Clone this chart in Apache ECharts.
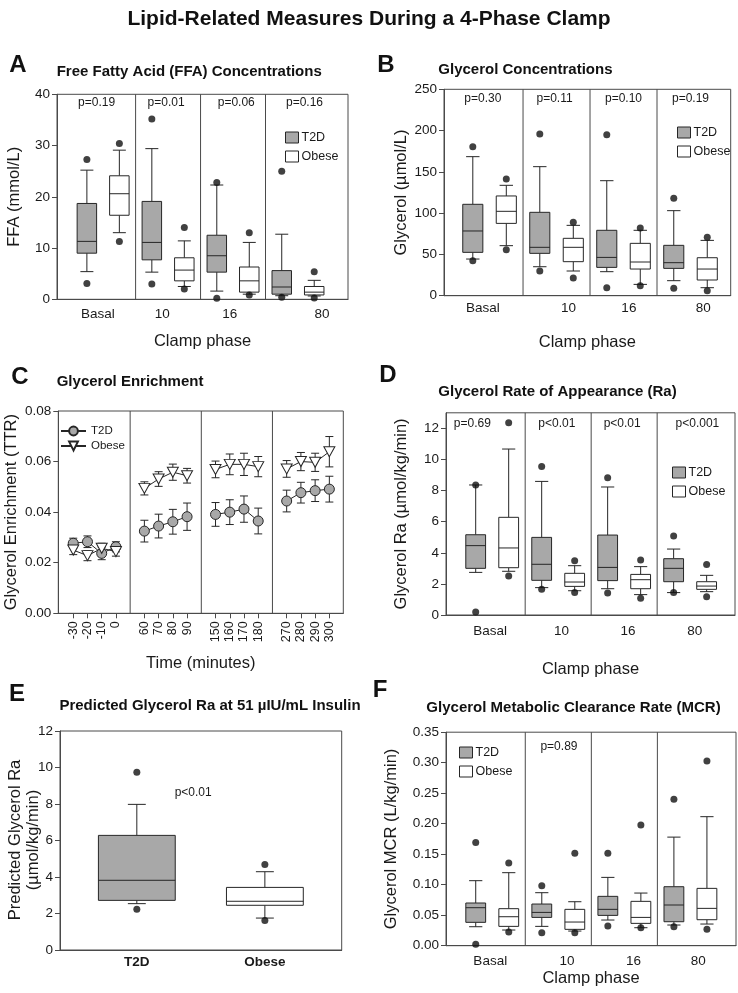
<!DOCTYPE html>
<html><head><meta charset="utf-8">
<script src="https://cdn.jsdelivr.net/npm/echarts@6/dist/echarts.min.js"></script>
<style>html,body{margin:0;padding:0;background:#fff}#c{width:738px;height:993px}</style>
</head><body><div id="c"></div><script>
// ---------------- DATA ----------------
const phases = ['Basal', '10', '16', '80'];
// box stats: [lower whisker, Q1, median, Q3, upper whisker]
const ffaT2D   = [[5.4, 9.0, 11.3, 18.7, 25.2], [5.3, 7.7, 11.1, 19.1, 29.4], [1.6, 5.3, 8.5, 12.5, 22.3], [0.7, 1.0, 2.4, 5.6, 12.7]];
const ffaObese = [[13.0, 16.4, 20.6, 24.1, 29.1], [2.5, 3.6, 5.7, 8.1, 11.4], [1.0, 1.4, 3.6, 6.3, 11.1], [0.65, 0.85, 1.4, 2.5, 3.7]];
const ffaT2DOut   = [[27.3, 3.1], [35.2, 3.0], [22.8, 0.2], [25.0, 0.4]];
const ffaObeseOut = [[30.4, 11.3], [14.0, 2.0], [13.0, 0.85], [5.4, 0.26]];
const ffaP = ['p=0.19', 'p=0.01', 'p=0.06', 'p=0.16'];

const glyT2D   = [[44.4, 52.5, 78.4, 110.7, 168.4], [35.1, 51.3, 58.6, 101, 156.3], [29.1, 34.3, 46.4, 79.2, 139.3], [18.2, 33.1, 40, 61, 103]];
const glyObese = [[60.6, 87.6, 102.2, 120.8, 133.7], [29.9, 41.2, 58.6, 69.5, 85.2], [13.7, 32.3, 40.8, 63.4, 79.2], [9.7, 19, 32.3, 46, 67]];
const glyT2DOut   = [[180.5, 42.4], [195.9, 29.9], [195, 9.7], [117.9, 8.9]];
const glyObeseOut = [[141.4, 55.7], [88.9, 21.4], [82, 12.1], [70.7, 6.1]];
const glyP = ['p=0.30', 'p=0.11', 'p=0.10', 'p=0.19'];

const timeLabels = ['-30', '-20', '-10', '0', '60', '70', '80', '90', '150', '160', '170', '180', '270', '280', '290', '300'];
const enrT2D      = [0.0277, 0.0283, 0.0237, 0.0263, 0.0325, 0.0345, 0.0362, 0.0382, 0.0391, 0.0400, 0.0412, 0.0365, 0.0444, 0.0477, 0.0485, 0.0491];
const enrT2DErr   = [0.0020, 0.0023, 0.0025, 0.0020, 0.0043, 0.0047, 0.0049, 0.0054, 0.0047, 0.0049, 0.0052, 0.0051, 0.0043, 0.0041, 0.0043, 0.0051];
const enrObese    = [0.0250, 0.0228, 0.0257, 0.0244, 0.0494, 0.0531, 0.0558, 0.0544, 0.0569, 0.0589, 0.0589, 0.0580, 0.0571, 0.0600, 0.0597, 0.0639];
const enrObeseErr = [0.0018, 0.0020, 0.0020, 0.0018, 0.0026, 0.0029, 0.0032, 0.0029, 0.0033, 0.0041, 0.0044, 0.0040, 0.0033, 0.0036, 0.0036, 0.0060];

const raT2D   = [[2.74, 3.0, 4.46, 5.16, 8.36], [1.76, 2.23, 3.26, 4.99, 8.59], [1.69, 2.21, 3.06, 5.14, 8.23], [1.44, 2.14, 3.0, 3.62, 4.24]];
const raObese = [[2.81, 3.04, 4.31, 6.28, 10.67], [1.56, 1.84, 2.12, 2.68, 3.17], [1.31, 1.69, 2.27, 2.61, 3.11], [1.5, 1.65, 1.86, 2.14, 2.55]];
const raT2DOut   = [[8.36, 0.19], [9.54, 1.65], [8.83, 1.41], [5.08, 1.44]];
const raObeseOut = [[12.36, 2.51], [3.49, 1.44], [3.54, 1.07], [3.24, 1.18]];
const raP = ['p=0.69', 'p<0.01', 'p<0.01', 'p<0.001'];

const predGroups = ['T2D', 'Obese'];
const predBoxes  = [[2.54, 2.72, 3.82, 6.28, 7.98], [1.75, 2.45, 2.67, 3.43, 4.29]];
const predOut    = [[9.74, 2.23], [4.68, 1.61]];
const predP = ['p<0.01'];

const mcrT2D   = [[0.0311, 0.0383, 0.0623, 0.070, 0.1066], [0.0317, 0.0464, 0.0546, 0.0683, 0.0869], [0.0421, 0.0497, 0.0596, 0.0809, 0.112], [0.0339, 0.0393, 0.0667, 0.0967, 0.178]];
const mcrObese = [[0.0257, 0.0317, 0.0475, 0.0607, 0.1197], [0.024, 0.0268, 0.0388, 0.0596, 0.0721], [0.0295, 0.0366, 0.0464, 0.0727, 0.0863], [0.0355, 0.0426, 0.0612, 0.094, 0.2115]];
const mcrT2DOut   = [[0.169, 0.0022], [0.0984, 0.0213], [0.1514, 0.0322], [0.240, 0.0311]];
const mcrObeseOut = [[0.1355, 0.0224], [0.1514, 0.0213], [0.1978, 0.0295], [0.3027, 0.0268]];
const mcrP = ['p=0.89'];

// ---------------- STYLE / LAYOUT ----------------
const FONT = '"Liberation Sans", Arial, Helvetica, sans-serif';
const GRAY = '#a8a8a8';
const INK = '#262626';
const FRAME = '#4a4a4a';

const chart = echarts.init(document.getElementById('c'));

const grids = [
  {left: 57, top: 94.3, width: 291, height: 205},      // A
  {left: 444, top: 89.3, width: 286.7, height: 206.4}, // B
  {left: 58.3, top: 411, width: 285, height: 202.3},   // C
  {left: 446, top: 412.8, width: 289, height: 202.2},  // D
  {left: 60, top: 731, width: 281.7, height: 219},     // E
  {left: 446, top: 732.2, width: 290, height: 213.5}   // F
].map(g => Object.assign({show: true, borderColor: FRAME, borderWidth: 1, containLabel: false, outerBoundsMode: 'none'}, g));

const xAxes = [];
const yAxes = [];
const series = [];

function ln(x1, y1, x2, y2, c) {
  return {type: 'line', shape: {x1, y1, x2, y2}, style: {stroke: c || INK, lineWidth: 1}};
}

function boxRenderer(fill, boxW, capW) {
  return function (params, api) {
    const x = api.value(0);
    const c = k => api.coord([x, api.value(k)]);
    const lo = c(1), q1 = c(2), md = c(3), q3 = c(4), hi = c(5);
    const bw = api.size([boxW, 0])[0], cw = api.size([capW, 0])[0];
    const cx = lo[0];
    return {type: 'group', children: [
      ln(cx, q3[1], cx, hi[1]), ln(cx - cw / 2, hi[1], cx + cw / 2, hi[1]),
      ln(cx, q1[1], cx, lo[1]), ln(cx - cw / 2, lo[1], cx + cw / 2, lo[1]),
      {type: 'rect', shape: {x: cx - bw / 2, y: q3[1], width: bw, height: q1[1] - q3[1]}, style: {fill: fill, stroke: INK, lineWidth: 1}},
      ln(cx - bw / 2, md[1], cx + bw / 2, md[1])
    ]};
  };
}

function dividerRenderer(params, api) {
  const p = api.coord([api.value(0), 0]);
  const cs = params.coordSys;
  return ln(p[0], cs.y, p[0], cs.y + cs.height, FRAME);
}

function textRenderer(texts, size) {
  return function (params, api) {
    const p = api.coord([api.value(0), api.value(1)]);
    return {type: 'text', x: p[0], y: p[1], style: {text: texts[params.dataIndex], fill: '#1a1a1a', font: size + 'px ' + FONT, align: 'center', verticalAlign: 'middle'}};
  };
}

function labelFormatter(pos, names) {
  return function (v) {
    for (let i = 0; i < pos.length; i++) if (Math.abs(pos[i] - v) < 1e-6) return names[i];
    return '';
  };
}

function yAxis(ax, o) {
  const a = {
    type: 'value', gridIndex: ax, min: o.min, max: o.max, interval: o.interval,
    name: o.name, nameLocation: 'middle', nameGap: o.nameGap, nameRotate: 90,
    nameTextStyle: {fontFamily: FONT, fontSize: 16.5, color: '#1a1a1a', lineHeight: 18},
    axisLine: {show: true, onZero: false, lineStyle: {color: FRAME, width: 1}},
    axisTick: {show: true, length: 5, lineStyle: {color: FRAME}},
    axisLabel: {fontFamily: FONT, fontSize: 13.5, color: '#1a1a1a', margin: 7},
    splitLine: {show: false}
  };
  if (o.fmt) a.axisLabel.formatter = o.fmt;
  if (o.custom) { a.axisLabel.customValues = o.custom; a.axisTick.customValues = o.custom; }
  yAxes.push(a);
}

function xAxis(ax, o) {
  xAxes.push({
    type: 'value', gridIndex: ax, min: o.min, max: o.max,
    name: o.name || '', nameLocation: 'middle', nameGap: o.nameGap || 30,
    nameTextStyle: {fontFamily: FONT, fontSize: 16.5, color: '#1a1a1a'},
    axisLine: {show: true, onZero: false, lineStyle: {color: FRAME, width: 1}},
    axisTick: o.ticks ? {show: true, length: 5, inside: false, customValues: o.labelPos, lineStyle: {color: FRAME}} : {show: false},
    axisLabel: {
      customValues: o.labelPos, formatter: labelFormatter(o.labelPos, o.labels),
      fontFamily: FONT, fontSize: o.labelSize || 13.5, fontWeight: o.labelWeight || 'normal',
      color: '#1a1a1a', margin: o.labelMargin || 8, rotate: o.rotate || 0
    },
    splitLine: {show: false}
  });
}

function boxSeries(ax, stats, name, posFn, fill, boxW, capW) {
  series.push({
    type: 'custom', name: name, xAxisIndex: ax, yAxisIndex: ax, z: 3,
    itemStyle: {color: fill, borderColor: INK},
    encode: {x: 0, y: [1, 2, 3, 4, 5]},
    data: stats.map((s, i) => [posFn(i)].concat(s)),
    renderItem: boxRenderer(fill, boxW, capW)
  });
}

function outlierSeries(ax, outs, posFn) {
  const d = [];
  outs.forEach((o, i) => o.forEach(v => d.push([posFn(i), v])));
  series.push({type: 'scatter', xAxisIndex: ax, yAxisIndex: ax, z: 4, symbol: 'circle', symbolSize: 7,
    itemStyle: {color: '#111'}, data: d, silent: true});
}

function dividerSeries(ax, xs) {
  series.push({type: 'custom', xAxisIndex: ax, yAxisIndex: ax, z: 2, silent: true,
    data: xs.map(x => [x]), renderItem: dividerRenderer});
}

function textSeries(ax, pts, texts, size) {
  series.push({type: 'custom', xAxisIndex: ax, yAxisIndex: ax, z: 5, silent: true,
    data: pts, renderItem: textRenderer(texts, size)});
}

const t2dPos = i => i - 0.25;
const obPos = i => i + 0.25;
const dividers = [0.5, 1.5, 2.5];

// generic 4-phase box panel
function phasePanel(ax, lay, t2d, ob, t2dOut, obOut, pTexts, yopt) {
  xAxis(ax, {min: lay.xmin, max: lay.xmax, labelPos: lay.labelPos, labels: phases,
    name: lay.xName, nameGap: lay.xGap, labelMargin: lay.labelMargin});
  yAxis(ax, yopt);
  dividerSeries(ax, dividers);
  boxSeries(ax, t2d, 'T2D', t2dPos, GRAY, 0.3, 0.2);
  boxSeries(ax, ob, 'Obese', obPos, '#ffffff', 0.3, 0.2);
  outlierSeries(ax, t2dOut, t2dPos);
  outlierSeries(ax, obOut, obPos);
  textSeries(ax, lay.pPos.map(x => [x, lay.pY]), pTexts, 12);
}

// A
phasePanel(0, {xmin: -0.71, xmax: 3.77, labelPos: [-0.08, 0.91, 1.95, 3.37], xName: 'Clamp phase', xGap: 34, labelMargin: 8,
  pPos: [-0.1, 0.97, 2.05, 3.1], pY: 38.4},
  ffaT2D, ffaObese, ffaT2DOut, ffaObeseOut, ffaP,
  {min: 0, max: 40, interval: 10, name: 'FFA (mmol/L)', nameGap: 34});
// B
phasePanel(1, {xmin: -0.68, xmax: 3.6, labelPos: [-0.1, 1.18, 2.08, 3.19], xName: 'Clamp phase', xGap: 38, labelMargin: 6,
  pPos: [-0.1, 0.97, 2.0, 3.0], pY: 239},
  glyT2D, glyObese, glyT2DOut, glyObeseOut, glyP,
  {min: 0, max: 250, interval: 50, name: 'Glycerol (\u00b5mol/L)', nameGap: 34});

// C : time course
const timePos = i => i + Math.floor(i / 4);
xAxis(2, {min: -1.05, max: 18.98, labelPos: timeLabels.map((t, i) => timePos(i)), labels: timeLabels,
  name: 'Time (minutes)', nameGap: 42, ticks: true, rotate: 90, labelSize: 12.5, labelMargin: 8});
yAxis(2, {min: 0, max: 0.08, interval: 0.02, name: 'Glycerol Enrichment (TTR)', nameGap: 38, fmt: v => v.toFixed(2)});
dividerSeries(2, [4, 9, 14]);
function errRenderer(params, api) {
  const x = api.value(0), v = api.value(1), e = api.value(2);
  const top = api.coord([x, v + e]), bot = api.coord([x, v - e]);
  const hw = 4;
  return {type: 'group', children: [ln(top[0], top[1], bot[0], bot[1]),
    ln(top[0] - hw, top[1], top[0] + hw, top[1]), ln(bot[0] - hw, bot[1], bot[0] + hw, bot[1])]};
}
function lineData(vals) {
  const d = [];
  vals.forEach((v, i) => { if (i > 0 && i % 4 === 0) d.push([timePos(i) - 1, '-']); d.push([timePos(i), v]); });
  return d;
}
series.push({type: 'custom', xAxisIndex: 2, yAxisIndex: 2, z: 2, silent: true,
  data: enrT2D.map((v, i) => [timePos(i), v, enrT2DErr[i]]), renderItem: errRenderer});
series.push({type: 'custom', xAxisIndex: 2, yAxisIndex: 2, z: 2, silent: true,
  data: enrObese.map((v, i) => [timePos(i), v, enrObeseErr[i]]), renderItem: errRenderer});
series.push({type: 'line', name: 'cT2D', xAxisIndex: 2, yAxisIndex: 2, z: 4, data: lineData(enrT2D),
  connectNulls: false, symbol: 'circle', symbolSize: 10, showAllSymbol: true,
  lineStyle: {color: INK, width: 1}, itemStyle: {color: GRAY, borderColor: INK, borderWidth: 1}});
series.push({type: 'line', name: 'cObese', xAxisIndex: 2, yAxisIndex: 2, z: 4, data: lineData(enrObese),
  connectNulls: false, symbol: 'triangle', symbolRotate: 180, symbolSize: [11, 10], showAllSymbol: true,
  lineStyle: {color: INK, width: 1}, itemStyle: {color: '#ffffff', borderColor: INK, borderWidth: 1}});

// D
phasePanel(3, {xmin: -0.70, xmax: 3.68, labelPos: [-0.03, 1.05, 2.06, 3.07], xName: 'Clamp phase', xGap: 46, labelMargin: 9,
  pPos: [-0.3, 0.98, 1.97, 3.11], pY: 12.28},
  raT2D, raObese, raT2DOut, raObeseOut, raP,
  {min: 0, max: 13, interval: 2, name: 'Glycerol Ra (\u00b5mol/kg/min)', nameGap: 36, custom: [0, 2, 4, 6, 8, 10, 12]});

// E (y-axis title drawn as rotated graphic text below)
xAxis(4, {min: -0.6, max: 1.6, labelPos: [0, 1], labels: predGroups, labelWeight: 'bold', labelMargin: 5});
yAxis(4, {min: 0, max: 12, interval: 2, name: '', nameGap: 20});
boxSeries(4, [predBoxes[0]], 'T2D', i => 0, GRAY, 0.6, 0.14);
boxSeries(4, [predBoxes[1]], 'Obese', i => 1, '#ffffff', 0.6, 0.14);
outlierSeries(4, [predOut[0]], i => 0);
outlierSeries(4, [predOut[1]], i => 1);
textSeries(4, [[0.44, 8.62]], predP, 12);

// F
(function () {
  const ax = 5;
  xAxis(ax, {min: -0.70, max: 3.69, labelPos: [-0.03, 1.13, 2.14, 3.12], labels: phases, name: 'Clamp phase', nameGap: 21, labelMargin: 9});
  yAxis(ax, {min: 0, max: 0.35, interval: 0.05, name: 'Glycerol MCR (L/kg/min)', nameGap: 46, fmt: v => v.toFixed(2)});
  dividerSeries(ax, dividers);
  boxSeries(ax, mcrT2D, 'T2D', t2dPos, GRAY, 0.3, 0.2);
  boxSeries(ax, mcrObese, 'Obese', obPos, '#ffffff', 0.3, 0.2);
  outlierSeries(ax, mcrT2DOut, t2dPos);
  outlierSeries(ax, mcrObeseOut, obPos);
  textSeries(ax, [[1.01, 0.326]], mcrP, 12);
})();

// legends
function boxLegend(left, top) {
  return {
    left: left, top: top, orient: 'vertical', itemWidth: 13, itemHeight: 11, itemGap: 6, padding: 0,
    selectedMode: false, textStyle: {fontFamily: FONT, fontSize: 12.5, color: '#1a1a1a', padding: [0, 0, 0, -2]},
    data: [
      {name: 'T2D', icon: 'rect', itemStyle: {color: GRAY, borderColor: INK, borderWidth: 1}},
      {name: 'Obese', icon: 'rect', itemStyle: {color: '#ffffff', borderColor: INK, borderWidth: 1}}
    ]
  };
}
const legends = [
  boxLegend(285, 131), boxLegend(677, 126), boxLegend(672, 466), boxLegend(459, 746),
  {
    left: 60, top: 425, orient: 'vertical', itemWidth: 25, itemHeight: 11, itemGap: 3, padding: 0,
    selectedMode: false, textStyle: {fontFamily: FONT, fontSize: 11.5, color: '#1a1a1a'},
    formatter: n => n.slice(1),
    data: [{name: 'cT2D'}, {name: 'cObese'}]
  }
];

// text headings
function gtext(x, y, text, font, align) {
  return {type: 'text', x: x, y: y, silent: true,
    style: {text: text, font: font, fill: '#111', align: align || 'left', verticalAlign: 'middle'}};
}
const LETTER = 'bold 24px ' + FONT;
const HEAD = 'bold 15px ' + FONT;
const graphics = [
  gtext(369, 19, 'Lipid-Related Measures During a 4-Phase Clamp', 'bold 21px ' + FONT, 'center'),
  gtext(18, 65, 'A', LETTER, 'center'), gtext(386, 65, 'B', LETTER, 'center'),
  gtext(20, 377, 'C', LETTER, 'center'), gtext(388, 375, 'D', LETTER, 'center'),
  gtext(17, 694, 'E', LETTER, 'center'), gtext(380, 690, 'F', LETTER, 'center'),
  gtext(56.7, 71.7, 'Free Fatty Acid (FFA) Concentrations', HEAD),
  gtext(438.3, 70, 'Glycerol Concentrations', HEAD),
  gtext(56.7, 381.7, 'Glycerol Enrichment', HEAD),
  gtext(438.3, 391.7, 'Glycerol Rate of Appearance (Ra)', HEAD),
  gtext(210, 706, 'Predicted Glycerol Ra at 51 \u00b5IU/mL Insulin', HEAD, 'center'),
  gtext(573.5, 708.3, 'Glycerol Metabolic Clearance Rate (MCR)', HEAD, 'center'),
  {type: 'text', x: 24, y: 840, rotation: Math.PI / 2, silent: true,
    style: {text: 'Predicted Glycerol Ra\n(\u00b5mol/kg/min)', font: '16.5px ' + FONT, fill: '#1a1a1a',
      align: 'center', verticalAlign: 'middle', lineHeight: 18}}
];

chart.setOption({
  animation: false,
  backgroundColor: '#ffffff',
  textStyle: {fontFamily: FONT},
  grid: grids,
  xAxis: xAxes,
  yAxis: yAxes,
  legend: legends,
  graphic: graphics,
  series: series
});
</script></body></html>
